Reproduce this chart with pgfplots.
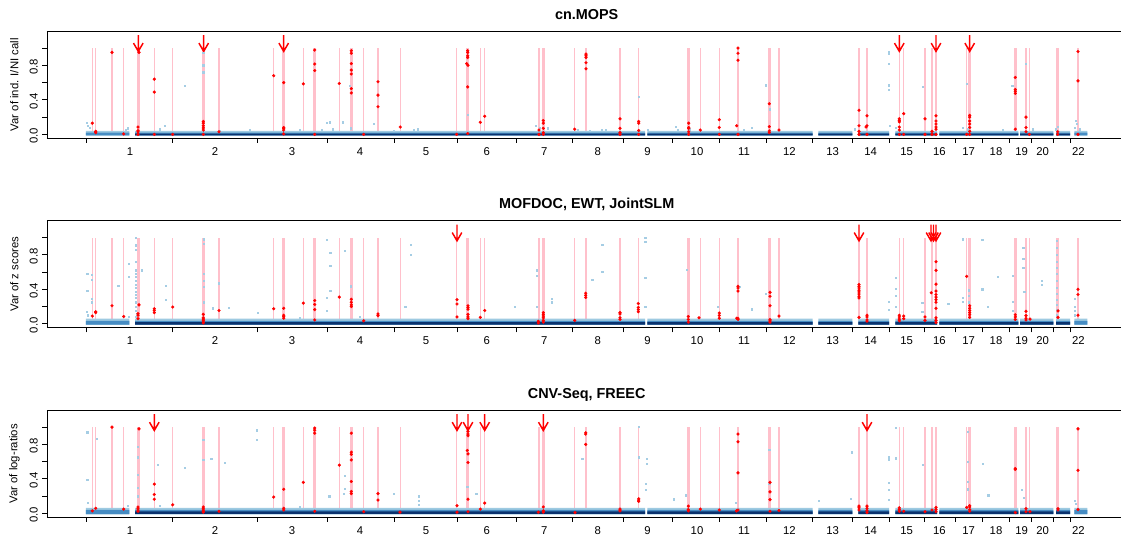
\documentclass[border=0pt]{standalone}
\usepackage{pgfplots}
\usepackage{pgfplotstable}
\pgfplotsset{compat=1.18}
\usepackage{fontspec}
\setmainfont{Liberation Sans}
\definecolor{pinkc}{RGB}{255,192,203}
\definecolor{lightb}{RGB}{158,202,225}
\definecolor{ptb}{RGB}{165,205,228}
\definecolor{medb}{RGB}{70,140,195}
\definecolor{darkb}{RGB}{10,50,110}
\definecolor{redc}{RGB}{255,0,0}

% pink marker lines (x position, base)
\pgfplotstableread[row sep=\\]{
x y\\ 92.3 0\\ 95.7 0\\ 112 0\\ 123.7 0\\ 154.3 0\\ 172.7 0\\ 219 0\\ 273.7 0\\ 303.3 0\\ 339.3 0\\ 363.7 0\\ 378 0\\ 400.3 0\\ 456.7 0\\ 480.3 0\\ 484.7 0\\ 539 0\\ 574.7 0\\ 620 0\\ 638.7 0\\ 700.3 0\\ 719.3 0\\ 779 0\\ 859 0\\ 899.3 0\\ 903.7 0\\ 925 0\\ 932 0\\ 966.7 0\\ 1026 0\\ 1029.3 0\\
}\pinkthin
\pgfplotstableread[row sep=\\]{
x y\\ 138.3 0\\ 203.3 0\\ 283.7 0\\ 314.7 0\\ 351.3 0\\ 467.7 0\\ 543.3 0\\ 586 0\\ 688.7 0\\ 738 0\\ 769.3 0\\ 867 0\\ 936 0\\ 969.7 0\\ 1015.3 0\\ 1057.7 0\\ 1078 0\\
}\pinkthick
% arrow shape: offsets (dx) from arrow position, y values
\pgfplotstableread[row sep=\\]{
d y\\ 0 1.15\\ 0 0.962\\ nan 0\\ -4.8 1.058\\ 0 0.962\\ 4.8 1.058\\
}\arrowshape
% covered genome segments (w=0 lower edge, w=1 upper edge)
\pgfplotstableread[row sep=\\]{
x w\\
86 0\\ 86 1\\ 129.3 1\\ 129.3 0\\ nan 0\\
135 0\\ 135 1\\ 645 1\\ 645 0\\ nan 0\\
647.3 0\\ 647.3 1\\ 812.5 1\\ 812.5 0\\ nan 0\\
818.3 0\\ 818.3 1\\ 852.3 1\\ 852.3 0\\ nan 0\\
858.3 0\\ 858.3 1\\ 889 1\\ 889 0\\ nan 0\\
895.3 0\\ 895.3 1\\ 937 1\\ 937 0\\ nan 0\\
939.3 0\\ 939.3 1\\ 1018.3 1\\ 1018.3 0\\ nan 0\\
1020 0\\ 1020 1\\ 1053.3 1\\ 1053.3 0\\ nan 0\\
1056 0\\ 1056 1\\ 1070 1\\ 1070 0\\ nan 0\\
1074.3 0\\ 1074.3 1\\ 1087.3 1\\ 1087.3 0\\
}\segall
\pgfplotstableread[row sep=\\]{
x w\\
135 0\\ 135 1\\ 645 1\\ 645 0\\ nan 0\\
647.3 0\\ 647.3 1\\ 812.5 1\\ 812.5 0\\ nan 0\\
818.3 0\\ 818.3 1\\ 852.3 1\\ 852.3 0\\ nan 0\\
858.3 0\\ 858.3 1\\ 889 1\\ 889 0\\ nan 0\\
895.3 0\\ 895.3 1\\ 937 1\\ 937 0\\ nan 0\\
939.3 0\\ 939.3 1\\ 1018.3 1\\ 1018.3 0\\ nan 0\\
1020 0\\ 1020 1\\ 1053.3 1\\ 1053.3 0\\ nan 0\\
1056 0\\ 1056 1\\ 1070 1\\ 1070 0\\
}\segdark

\pgfplotsset{
  panel/.style={
    scale only axis, width=805.5pt, height=80.25pt,
    xmin=47, xmax=1121, ymin=-0.045, ymax=1.195,
    axis x line=box, axis y line=left,
    axis line style={-, line width=0.7pt},
    xtick pos=left, ytick pos=left,
    tick align=outside, major tick length=3.4pt,
    tick style={black, line width=0.7pt},
    xtick={86,172.3,257,327,394,457.3,516.7,572.3,623.3,672.3,719,766,812.3,852.3,889,924.3,955.3,982.3,1009,1031.7,1053.3,1070},
    xticklabels={},
    extra x ticks={130,215,292,360,426,486.7,544.3,597.7,647.5,697,744,789.3,832.7,870.7,906.7,939.3,968.7,996,1021.7,1042.7,1078.3},
    extra x tick labels={1,2,3,4,5,6,7,8,9,10,11,12,13,14,15,16,17,18,19,20,22},
    extra x tick style={major tick length=0pt, grid=none},
    ytick={0,0.2,0.4,0.6,0.8,1},
    yticklabels={0.0,,0.4,,0.8,},
    tick label style={font=\fontsize{8.5}{10}\selectfont},
    xticklabel style={anchor=base, yshift=-12.9pt},
    yticklabel style={rotate=90, anchor=south, xshift=-1pt},
    label style={font=\fontsize{8.5}{10}\selectfont},
    ylabel style={at={(axis description cs:-0.0304,0.5)}, anchor=center},
    title style={at={(axis description cs:0.5025,1)}, anchor=base, yshift=2.8pt, font=\bfseries\fontsize{10.8}{13}\selectfont},
    unbounded coords=jump,
    clip=false,
  },
  pinkthinst/.style={pinkc, line width=0.8pt, quiver={u=0,v=1}},
  pinkthickst/.style={pinkc, line width=2pt, quiver={u=0,v=1}},
  redpts/.style={only marks, mark=*, mark size=1.1pt, draw=redc, fill=redc, mark options={line width=0.2pt}},
  bluepts/.style={only marks, mark=square*, mark size=0.45pt, draw=ptb, fill=ptb},
  arr/.style={draw=redc, line width=1.1pt, no marks, line join=miter, line cap=butt},
}
\newcommand{\arrowat}[1]{\addplot[arr] table[x expr={\thisrow{d}+#1}, y=y] {\arrowshape};}

\begin{document}
\begin{tikzpicture}
\useasboundingbox (0,0) rectangle (840.75pt,403.5pt);

% ---------------- Panel 1 ----------------
\begin{axis}[panel, at={(35.25pt,299.8pt)}, anchor=south west,
  title={cn.MOPS}, ylabel={Var of ind. I/NI call}]
\addplot[pinkthinst] table[x=x,y=y] {\pinkthin};
\addplot[pinkthickst] table[x=x,y=y] {\pinkthick};
\addplot[fill=lightb, draw=none] table[x=x, y expr={-0.015+0.055*\thisrow{w}}] {\segall};
\addplot[fill=medb, draw=none] table[x=x, y expr={-0.013+0.033*\thisrow{w}}] {\segall};
\addplot[fill=darkb, draw=none] table[x=x, y expr={-0.012+0.022*\thisrow{w}}] {\segdark};
\addplot[bluepts] coordinates {
(86.5,0.13)(88,0.10)(90,0.08)(128,0.07)(126,0.05)(165,0.10)(185,0.56)(203.3,0.95)(203.3,0.80)(203.3,0.72)
(220,0.04)(327,0.13)(330,0.14)(333,0.06)(343,0.14)(350,0.56)(351,0.07)(322,0.05)(374,0.12)(394,0.04)
(414,0.05)(418,0.06)(468,0.23)(536,0.10)(540,0.08)(548,0.07)(578,0.05)(590,0.04)(602,0.05)(606,0.05)
(638.7,0.44)(648,0.05)(676,0.09)(678,0.05)(690,0.06)(766,0.57)(770,0.29)(889,0.96)(889,0.94)(889,0.82)
(889,0.57)(889,0.52)(922.7,0.55)(966.7,0.59)(1012.3,0.56)(1026,0.82)(1076,0.16)(1077,0.12)(1074.5,0.08)
(1080,0.06)(890,0.10)(896,0.08)(963,0.08)(968,0.06)(1056,0.06)(1058,0.09)(744,0.05)(752,0.08)(1003,0.05)
(1033,0.06)(855,0.06)(300,0.05)(250,0.05)(160,0.06)};
\addplot[redpts] coordinates {
(92.3,0.13)(95.7,0.035)(95.7,0.02)(112,0.95)(123.7,0.005)
(139,0.95)(138,0.085)(138,0.045)(138,0.03)(138,0.0)
(154.3,0.64)(154.3,0.49)(154.3,0.0)(172.7,0.0)
(203.3,0.15)(203.3,0.13)(203.3,0.10)(203.3,0.075)(203.3,0.05)(203.3,0.0)
(219,0.03)(273.7,0.68)
(283.7,0.60)(283.7,0.08)(283.7,0.07)(283.7,0.05)(283.7,0.005)
(303.3,0.585)(314.7,0.977)(314.7,0.815)(314.7,0.74)(314.7,0.0)(339.3,0.59)
(351.3,0.97)(351.3,0.94)(351.3,0.82)(351.3,0.745)(351.3,0.70)(351.3,0.53)(351.3,0.48)
(363.7,0.0)(378,0.61)(378,0.455)(378,0.32)(400.3,0.085)(456.7,0.0)
(467.7,0.97)(467.7,0.95)(467.7,0.91)(467.7,0.89)(466.7,0.82)(468,0.80)(467.7,0.55)(467.7,0.01)
(480.3,0.14)(484.7,0.21)(539,0.05)(539,0.0)
(543.3,0.16)(543.3,0.13)(543.3,0.07)(543.3,0.02)(543.3,0.0)(574.7,0.06)
(586,0.93)(586,0.91)(586,0.89)(586,0.83)(586,0.76)
(620,0.18)(620,0.07)(620,0.02)(620,0.0)
(638.7,0.15)(638.7,0.13)(638.7,0.045)(638.7,0.0)
(688.7,0.13)(688.7,0.08)(688.7,0.07)(688.7,0.03)(688.7,0.0)(700.3,0.05)
(719.3,0.17)(719.3,0.08)(719.3,0.0)(736.7,0.10)(738,1.0)(738,0.94)(738,0.86)(738,0.0)
(769.3,0.355)(769.3,0.09)(769.3,0.04)(769.3,0.02)(779,0.05)
(859,0.28)(859,0.10)(859,0.035)(859,0.0)(867,0.215)(867,0.10)(866,0.085)(867,0.0)
(899.3,0.18)(899.3,0.16)(899.3,0.145)(899.3,0.085)(899.3,0.05)(899.3,0.0)
(903.7,0.24)(903.7,0.0)(925,0.18)(925,0.0)(932,0.035)(932,0.0)
(936,0.215)(936,0.155)(936,0.12)(936,0.085)(936,0.06)(936,0.0)(966.7,0.0)
(969.7,0.22)(969.7,0.20)(969.7,0.155)(969.7,0.12)(969.7,0.08)(969.7,0.035)(969.7,0.0)
(1015.3,0.66)(1015.3,0.52)(1015.3,0.50)(1015.3,0.475)(1015.3,0.06)
(1026,0.20)(1026,0.08)(1026,0.03)(1029.3,0.0)(1057.7,0.03)(1057.7,0.0)
(1078,0.96)(1078,0.62)(1078,0.0)};
\arrowat{138.3}\arrowat{203.7}\arrowat{283.7}\arrowat{899.3}\arrowat{936}\arrowat{969.7}
\end{axis}

% ---------------- Panel 2 ----------------
\begin{axis}[panel, at={(35.25pt,157.7pt)}, anchor=south west,
  title={MOFDOC, EWT, JointSLM}, ylabel={Var of z scores}]
\addplot[pinkthinst] table[x=x,y=y] {\pinkthin};
\addplot[pinkthickst] table[x=x,y=y] {\pinkthick};
\addplot[fill=lightb, draw=none] table[x=x, y expr={-0.012+0.072*\thisrow{w}}] {\segall};
\addplot[fill=medb, draw=none] table[x=x, y expr={-0.01+0.045*\thisrow{w}}] {\segall};
\addplot[fill=darkb, draw=none] table[x=x, y expr={-0.01+0.03*\thisrow{w}}] {\segdark};
\addplot[bluepts] coordinates {
(87.3,0.58)(87.3,0.385)(92,0.57)(92,0.51)(92,0.29)(92,0.25)(128.7,0.70)(128.7,0.55)(118.3,0.44)
(136,1.0)(136,0.91)(136,0.86)(136,0.72)(136,0.62)(136,0.58)(136,0.55)(136,0.50)(136,0.45)(136,0.42)
(136,0.37)(136,0.34)(136,0.30)(136,0.25)(136,0.20)(136,0.15)(137,0.12)(135.5,0.08)
(142,0.62)(165.7,0.44)(165.7,0.28)(204,0.98)(204,0.93)(204,0.58)(204,0.50)(204,0.43)(204,0.25)(219,0.47)
(212.7,0.18)(228.7,0.19)(257.7,0.13)(326.7,0.97)(326.7,0.30)(326.7,0.155)(330.3,0.82)(330.3,0.67)
(330.3,0.38)(344.7,0.85)(350.7,0.435)
(411,0.92)(411,0.80)(405.3,0.2)(536.7,0.62)(536.7,0.56)(536.7,0.2)(551.7,0.29)(551.7,0.25)(602.3,0.92)
(602.3,0.60)(592.3,0.51)(645.3,1.0)(645.3,0.95)(645.3,0.53)(645.3,0.2)(686.7,0.63)(515,0.2)(718,0.2)
(740,0.43)(766,0.35)(752,0.17)(895.7,0.53)(895.7,0.41)(895.7,0.33)(895.7,0.2)(889,0.26)(889,0.16)
(922.3,0.245)(922.3,0.14)(962.7,0.98)(962.7,0.30)(962.7,0.26)(982.3,0.97)(982.3,0.40)(969,0.39)(969,0.33)
(969,0.25)(948.3,0.23)(997.7,0.55)(987.7,0.195)(1012.7,0.56)(1012.7,0.26)(1012.7,0.15)(1023.3,0.88)
(1023.3,0.75)(1023.3,0.65)(1024.3,0.37)(1041.7,0.50)(1041.7,0.45)
(1056.7,0.96)(1056.7,0.88)(1056.7,0.80)(1056.7,0.72)(1056.7,0.65)(1056.7,0.58)(1056.7,0.50)(1056.7,0.42)
(1056.7,0.35)(1056.7,0.28)(1056.7,0.22)(1056.7,0.16)(1056.7,0.10)
(1075,0.29)(1075,0.2)(1075,0.15)(1075,0.1)(86.5,0.14)(88,0.1)(129,0.08)(300,0.07)(360,0.08)(620,0.08)};
\addplot[redpts] coordinates {
(92.3,0.09)(95.7,0.13)(95.7,0.14)(112,0.21)(123.7,0.085)
(139,0.22)(138,0.12)(138,0.10)(138,0.06)(154.3,0.175)(154.3,0.155)(154.3,0.13)(172.7,0.195)
(203.3,0.11)(203.3,0.07)(203.3,0.055)(203.3,0.04)(203.3,0.02)(203.3,0.01)(219,0.155)(273.7,0.175)
(283.7,0.18)(283.7,0.10)(283.7,0.085)(283.7,0.065)(303.3,0.24)
(314.7,0.27)(314.7,0.225)(314.7,0.165)(314.7,0.045)(339.3,0.31)
(351.3,0.285)(351.3,0.25)(351.3,0.22)(351.3,0.20)(363.7,0.035)(378,0.115)(378,0.095)
(457,0.28)(457,0.23)(457,0.08)(468,0.21)(468,0.19)(468,0.17)(468,0.11)(468,0.08)(468,0.06)
(480.3,0.075)(484.7,0.155)(538.3,0.03)(538.3,0.01)
(543.3,0.13)(543.3,0.11)(543.3,0.09)(543.3,0.07)(543.3,0.04)(543.3,0.02)(574.7,0.04)
(585.7,0.355)(585.7,0.33)(585.7,0.305)(620,0.13)(620,0.115)(620,0.07)(620,0.05)
(638.3,0.235)(638.3,0.19)(638.3,0.165)(638.3,0.14)(688.3,0.085)(688.3,0.05)(688.3,0.02)(699,0.07)
(719.3,0.125)(719.3,0.097)(719.3,0.065)(736.7,0.065)(738,0.435)(738,0.415)(738,0.38)(738,0.065)(738,0.05)
(770,0.365)(770,0.32)(770,0.21)(770,0.05)(770,0.035)(770,0.02)(779,0.09)
(859,0.455)(859,0.435)(859,0.415)(859,0.39)(859,0.37)(859,0.345)(859,0.32)(859,0.30)(859,0.075)
(867,0.10)(867,0.08)(867,0.045)(867,0.03)(899.3,0.10)(899.3,0.08)(899.3,0.055)(899.3,0.035)
(903.7,0.09)(903.7,0.06)(925,0.08)(925,0.04)(931.3,0.36)
(936,0.72)(936,0.62)(936,0.46)(936,0.38)(936,0.34)(936,0.31)(936,0.28)(936,0.25)(936,0.18)(936,0.07)(936,0.04)(936,0.015)
(966.7,0.55)(969.7,0.21)(969.7,0.18)(969.7,0.155)(969.7,0.13)(969.7,0.105)(969.7,0.075)
(1015.3,0.105)(1015.3,0.08)(1015.3,0.05)(1026,0.145)(1026,0.095)(1026,0.065)(1026,0.045)(1030,0.055)
(1058,0.15)(1058,0.075)(1078,0.40)(1078,0.34)(1078,0.10)};
\arrowat{457}\arrowat{859}\arrowat{931}\arrowat{933.5}\arrowat{936}
\end{axis}

% ---------------- Panel 3 ----------------
\begin{axis}[panel, at={(35.25pt,15.5pt)}, anchor=south west,
  title={CNV{-}Seq, FREEC}, ylabel={Var of log{-}ratios}]
\addplot[pinkthinst] table[x=x,y=y] {\pinkthin};
\addplot[pinkthickst] table[x=x,y=y] {\pinkthick};
\addplot[fill=lightb, draw=none] table[x=x, y expr={-0.01+0.075*\thisrow{w}}] {\segall};
\addplot[fill=medb, draw=none] table[x=x, y expr={-0.008+0.048*\thisrow{w}}] {\segall};
\addplot[fill=darkb, draw=none] table[x=x, y expr={-0.006+0.031*\thisrow{w}}] {\segdark};
\addplot[bluepts] coordinates {
(87.3,0.94)(87.3,0.39)(96.7,0.87)(137.7,0.77)(137.7,0.65)(137.7,0.45)(137.7,0.3)(137.7,0.2)(157.7,0.56)
(185,0.53)(211.3,0.63)(225,0.585)(256.7,0.965)(256.7,0.85)(203.3,0.85)(203.3,0.62)(345,0.44)(345,0.29)
(329.3,0.2)(343.7,0.23)(393.7,0.23)(419,0.2)(419,0.15)(419,0.1)(467.3,0.31)(476.3,0.23)(638.7,1.0)
(638.7,0.65)(645.7,0.34)(645.7,0.27)(646.7,0.63)(646.7,0.58)(582.3,0.63)(685.7,0.21)(674,0.165)
(896,0.99)(896,0.64)(889,0.65)(889,0.62)(889,0.36)(889,0.27)(889,0.16)(851.7,0.71)(818.7,0.15)(851,0.17)
(922.7,0.56)(967.7,0.95)(967.7,0.6)(967.7,0.365)(967.7,0.28)(983,0.58)(988.3,0.21)(1021.7,0.27)
(1024,0.18)(769.3,0.74)(769.3,0.34)(736,0.12)(88,0.12)(128,0.09)(160,0.09)(300,0.08)(1075,0.15)(1076,0.11)};
\addplot[redpts] coordinates {
(92.3,0.03)(95.7,0.06)(112,1.0)(123.7,0.05)
(139,0.98)(138,0.075)(138,0.06)(138,0.04)(138,0.025)(154.3,0.34)(154.3,0.22)(154.3,0.165)(172.7,0.10)
(203.3,0.075)(203.3,0.06)(203.3,0.04)(203.3,0.025)(203.3,0.015)(219,0.025)(273.7,0.19)
(283.7,0.28)(283.7,0.06)(283.7,0.04)(303.3,0.36)(314.7,0.99)(314.7,0.965)(314.7,0.93)(314.7,0.025)
(339.3,0.56)(351.3,0.93)(351.3,0.71)(351.3,0.685)(351.3,0.62)(351.3,0.37)(351.3,0.255)(351.3,0.23)
(363.7,0.02)(378,0.23)(378,0.155)(400,0.015)(457,0.09)(457,0.015)
(468,0.95)(468,0.92)(468,0.90)(467.3,0.73)(468,0.69)(468,0.59)(468,0.165)(468,0.02)
(480.3,0.05)(484.7,0.12)(538.3,0.015)(543.3,0.075)(543.3,0.03)(543.3,0.015)(575,0.01)
(585.7,0.935)(585.7,0.92)(585.7,0.80)(620,0.05)(620,0.03)(638.7,0.17)(638.7,0.155)(638.7,0.14)
(688.3,0.085)(688.3,0.045)(688.3,0.03)(700.3,0.05)(719.3,0.04)
(738,0.92)(738,0.83)(738,0.47)(738,0.04)(736.5,0.03)
(770,0.36)(770,0.25)(770,0.16)(770,0.025)(779,0.035)(859,0.085)(859,0.065)(859,0.04)
(867,0.085)(867,0.06)(867,0.035)(867,0.01)(899.3,0.065)(899.3,0.045)(899.3,0.025)(903.7,0.025)
(925,0.02)(932,0.04)(936,0.07)(936,0.045)(936,0.02)(966.7,0.07)
(969.7,0.09)(969.7,0.075)(969.7,0.045)(969.7,0.025)(1015.3,0.52)(1015.3,0.51)(1015.3,0.01)
(1026,0.055)(1026,0.02)(1030,0.02)(1058,0.055)(1058,0.04)(1078,0.98)(1078,0.50)(1078,0.045)};
\arrowat{154.3}\arrowat{457}\arrowat{468}\arrowat{484.7}\arrowat{543.3}\arrowat{867}
\end{axis}
\end{tikzpicture}
\end{document}
